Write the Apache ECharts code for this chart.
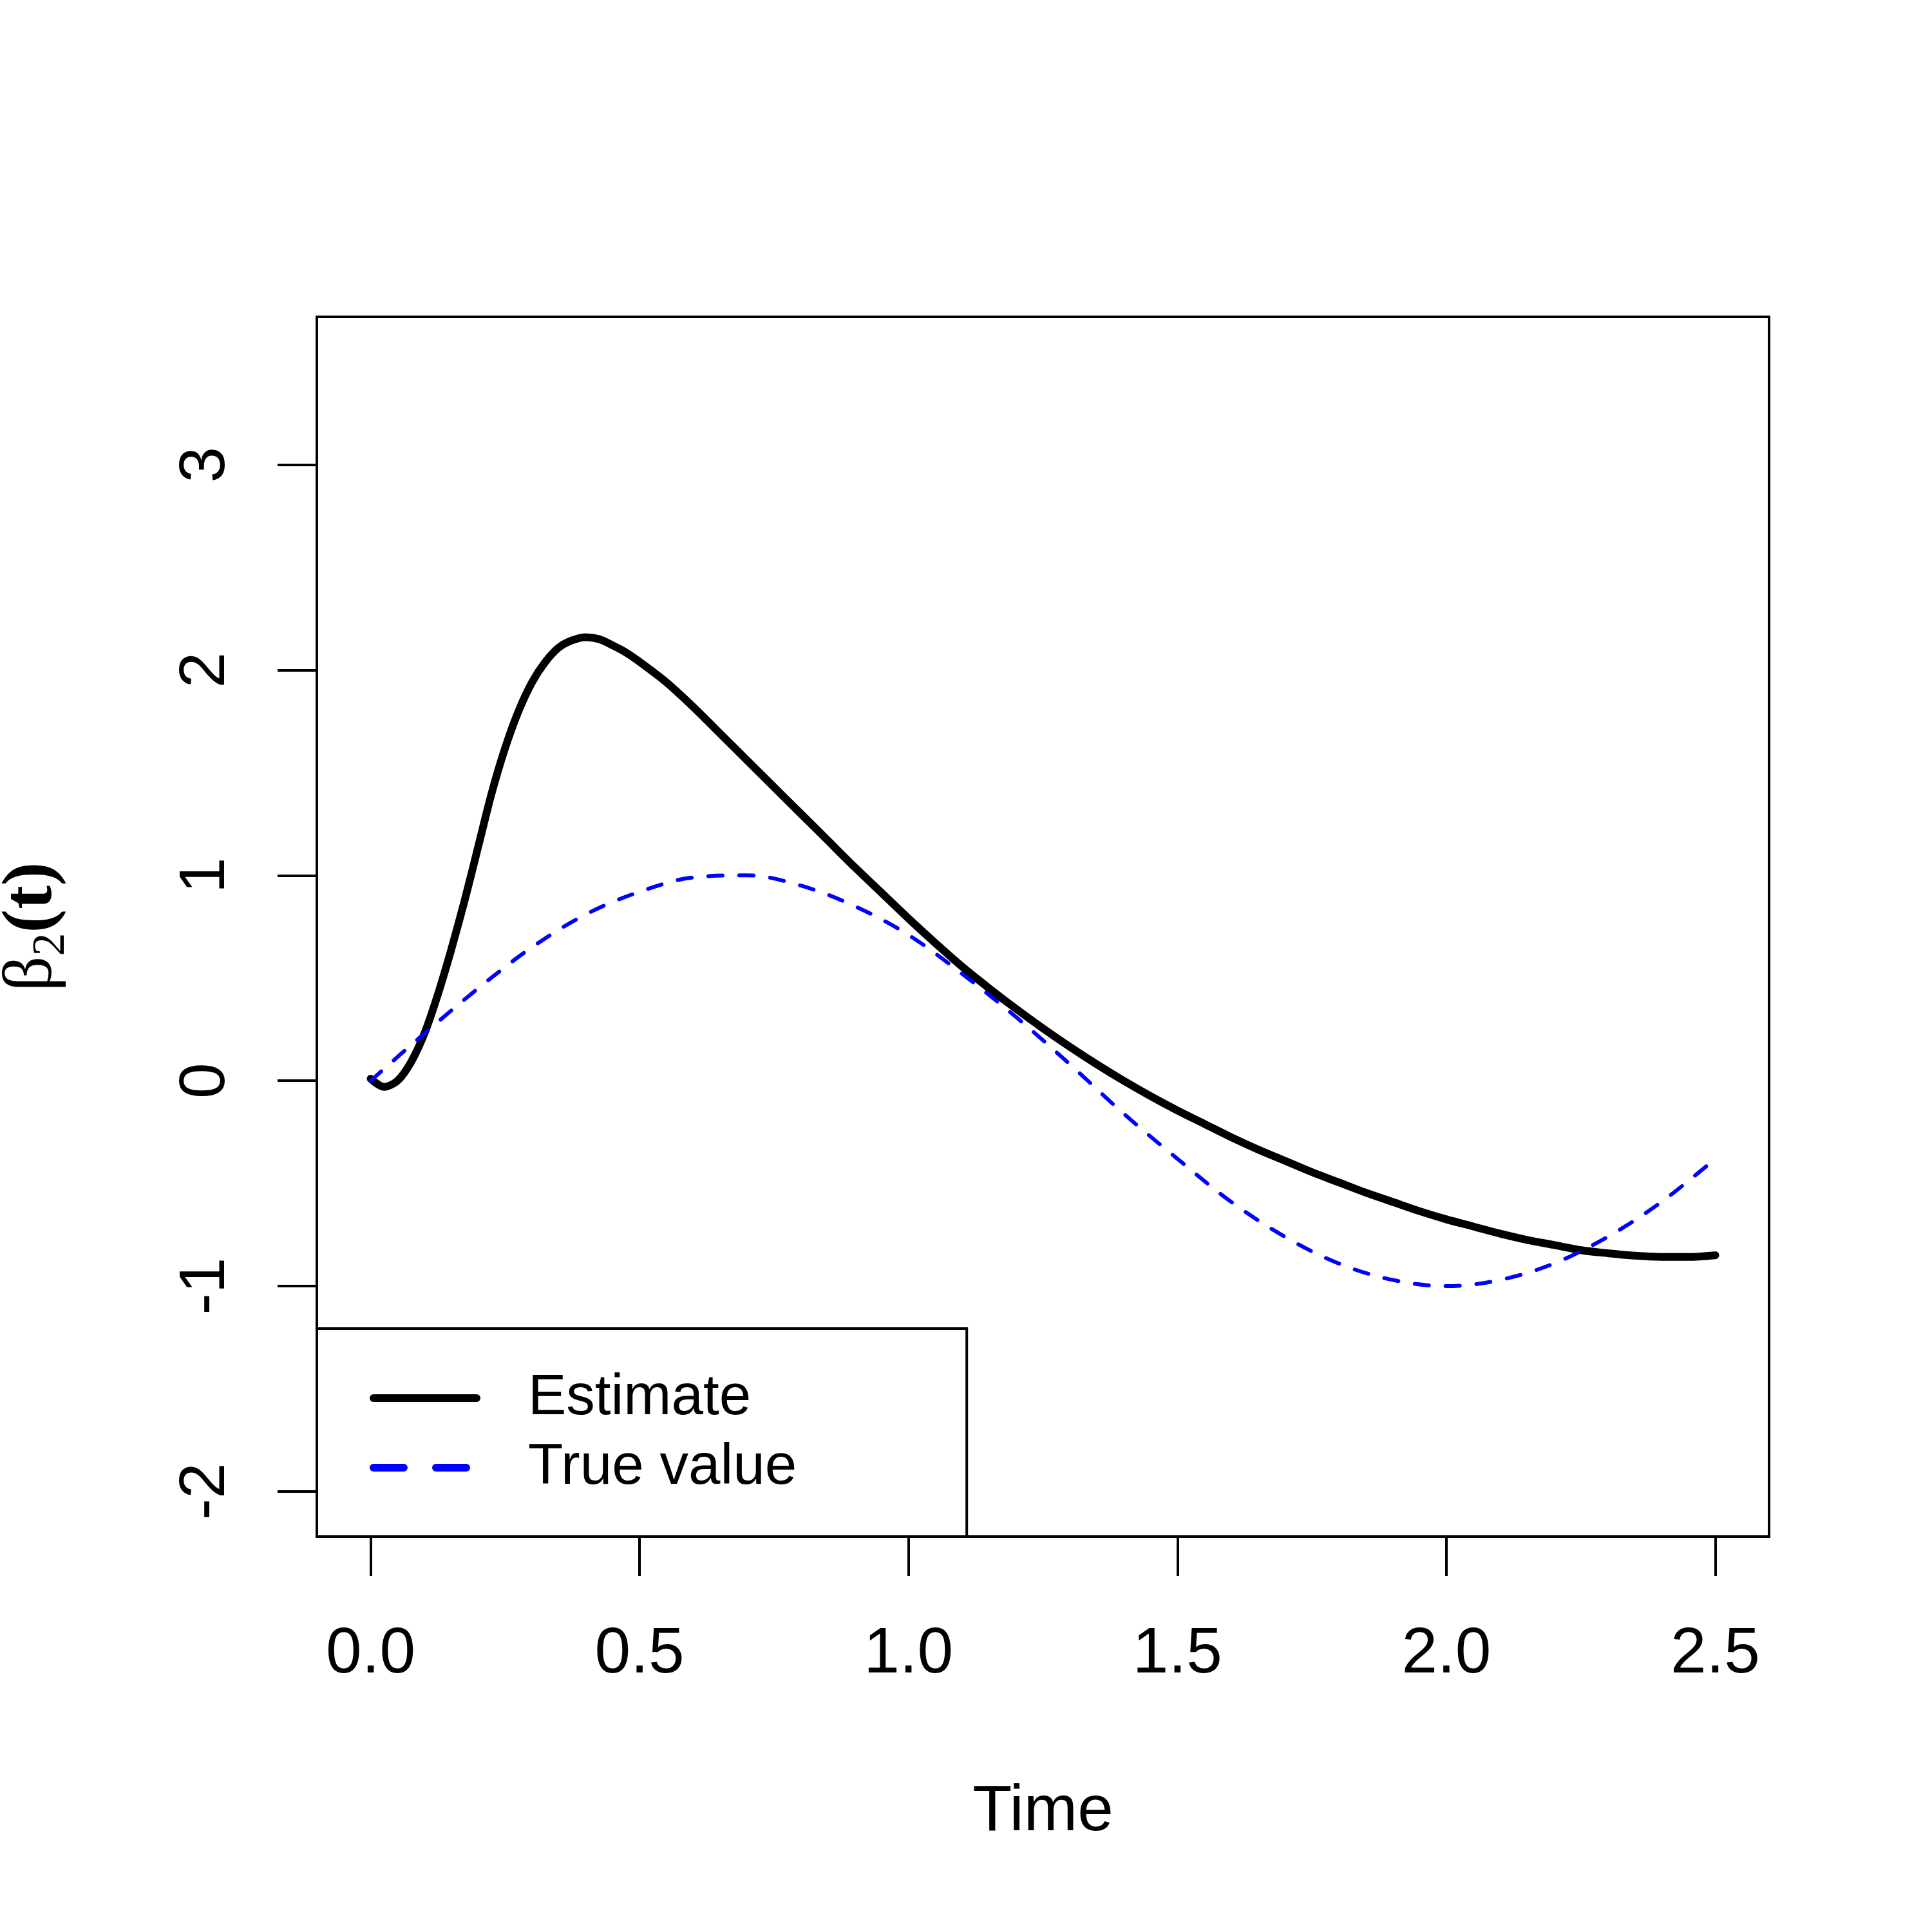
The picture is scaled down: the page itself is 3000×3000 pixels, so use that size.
<!DOCTYPE html>
<html>
<head>
<meta charset="utf-8">
<script src="https://cdn.jsdelivr.net/npm/echarts@6/dist/echarts.min.js"></script>
<style>
html,body{margin:0;padding:0;background:#fff;}
#c{width:3000px;height:3000px;}
</style>
</head>
<body>
<div id="c"></div>
<script>
// ---- data ----
const estTime  = [0, 0.025, 0.05, 0.075, 0.1, 0.125, 0.15, 0.175, 0.2, 0.225, 0.25, 0.275, 0.3, 0.325, 0.35, 0.375, 0.4, 0.425, 0.45, 0.475, 0.5,
                  0.55, 0.6, 0.65, 0.7, 0.75, 0.8, 0.85, 0.9, 0.95, 1.0, 1.05, 1.1, 1.15, 1.2, 1.25, 1.3, 1.35, 1.4, 1.45, 1.5,
                  1.55, 1.6, 1.65, 1.7, 1.75, 1.8, 1.85, 1.9, 1.95, 2.0, 2.05, 2.1, 2.15, 2.2, 2.25, 2.3, 2.35, 2.4, 2.45, 2.5];
const estValue = [0.01, -0.03, 0.0, 0.09, 0.23, 0.42, 0.64, 0.88, 1.14, 1.40, 1.62, 1.80, 1.94, 2.04, 2.11, 2.145, 2.16, 2.15, 2.12, 2.085, 2.04,
                  1.94, 1.82, 1.69, 1.56, 1.43, 1.30, 1.17, 1.04, 0.915, 0.79, 0.67, 0.555, 0.45, 0.35, 0.255, 0.165, 0.08, 0.0, -0.075, -0.145,
                  -0.21, -0.275, -0.335, -0.39, -0.445, -0.495, -0.545, -0.59, -0.635, -0.675, -0.71, -0.745, -0.775, -0.80, -0.825, -0.84, -0.852, -0.858, -0.858, -0.85];
const trueTime  = [0, 0.1, 0.2, 0.3, 0.4, 0.5, 0.6, 0.7, 0.8, 0.9, 1.0, 1.1, 1.2, 1.3, 1.4, 1.5, 1.6, 1.7, 1.8, 1.9, 2.0, 2.1, 2.2, 2.3, 2.4, 2.5];
const trueValue = [0, 0.23, 0.45, 0.65, 0.81, 0.92, 0.99, 1.00, 0.95, 0.85, 0.71, 0.52, 0.31, 0.08, -0.16, -0.38, -0.59, -0.76, -0.89, -0.97, -1.00, -0.97, -0.89, -0.76, -0.59, -0.38];
const xTicks = [0, 0.5, 1, 1.5, 2, 2.5];
const yTicks = [-2, -1, 0, 1, 2, 3];
const seriesNames = ['Estimate', 'True value'];
const xName = 'Time';

const pair = (xs, ys) => xs.map((x, i) => [x, ys[i]]);
const FONT = 'Liberation Sans';

const chart = echarts.init(document.getElementById('c'), null, {renderer: 'canvas'});
chart.setOption({
  backgroundColor: '#ffffff',
  animation: false,
  grid: {
    show: true, left: 492, right: 253, top: 492, bottom: 614,
    containLabel: false, outerBoundsMode: 'none',
    borderColor: '#000', borderWidth: 4, backgroundColor: 'transparent'
  },
  legend: {
    orient: 'vertical', left: 492, top: 2063,
    padding: [54, 264, 53, 82],
    borderColor: '#000', borderWidth: 4, backgroundColor: '#fff',
    itemWidth: 160, itemHeight: 2, itemGap: 0,
    itemStyle: {opacity: 0},
    textStyle: {fontSize: 89, lineHeight: 108, fontFamily: FONT, color: '#000', padding: [0, 0, 0, 75]},
    data: [
      {name: seriesNames[0], lineStyle: {width: 12, cap: 'round'}},
      {name: seriesNames[1], lineStyle: {width: 12, type: [47, 50], cap: 'round'}}
    ]
  },
  xAxis: {
    type: 'value', min: -0.1, max: 2.6,
    splitLine: {show: false},
    axisLine: {show: false, onZero: false},
    axisTick: {show: true, length: 61, lineStyle: {color: '#000', width: 4}, customValues: xTicks},
    axisLabel: {customValues: xTicks, formatter: v => Number(v).toFixed(1), fontSize: 100, margin: 133, color: '#000', fontFamily: FONT, lineHeight: 100},
    name: xName, nameLocation: 'middle', nameGap: 378,
    nameTextStyle: {fontSize: 100, fontFamily: FONT, color: '#000', lineHeight: 100}
  },
  yAxis: {
    type: 'value', min: -2.22, max: 3.72,
    splitLine: {show: false},
    axisLine: {show: false, onZero: false},
    axisTick: {show: true, length: 61, lineStyle: {color: '#000', width: 4}, customValues: yTicks},
    axisLabel: {customValues: yTicks, rotate: 90, fontSize: 100, margin: 122, color: '#000', fontFamily: FONT, lineHeight: 100},
    name: '{b|β}{s|2}{p|(t)}', nameLocation: 'middle', nameGap: 376, nameRotate: 90,
    nameTextStyle: {
      color: '#000',
      rich: {
        b: {fontSize: 108, fontFamily: 'Liberation Serif', lineHeight: 130, color: '#000'},
        s: {fontSize: 72, fontFamily: 'Liberation Serif', lineHeight: 72, verticalAlign: 'bottom', color: '#000'},
        p: {fontSize: 110, fontFamily: 'Liberation Serif', fontWeight: 'bold', lineHeight: 130, color: '#000'}
      }
    }
  },
  series: [
    {
      name: seriesNames[0], type: 'line', data: pair(estTime, estValue),
      showSymbol: false, symbol: 'none', smooth: 0.3, clip: true,
      color: '#000',
      lineStyle: {color: '#000', width: 12, cap: 'round', join: 'round'}
    },
    {
      name: seriesNames[1], type: 'line', data: pair(trueTime, trueValue),
      showSymbol: false, symbol: 'none', smooth: 0.35, clip: true,
      color: '#0000ff',
      lineStyle: {color: '#0000ff', width: 6, type: [22, 26], cap: 'round', join: 'round'}
    }
  ]
});
</script>
</body>
</html>
